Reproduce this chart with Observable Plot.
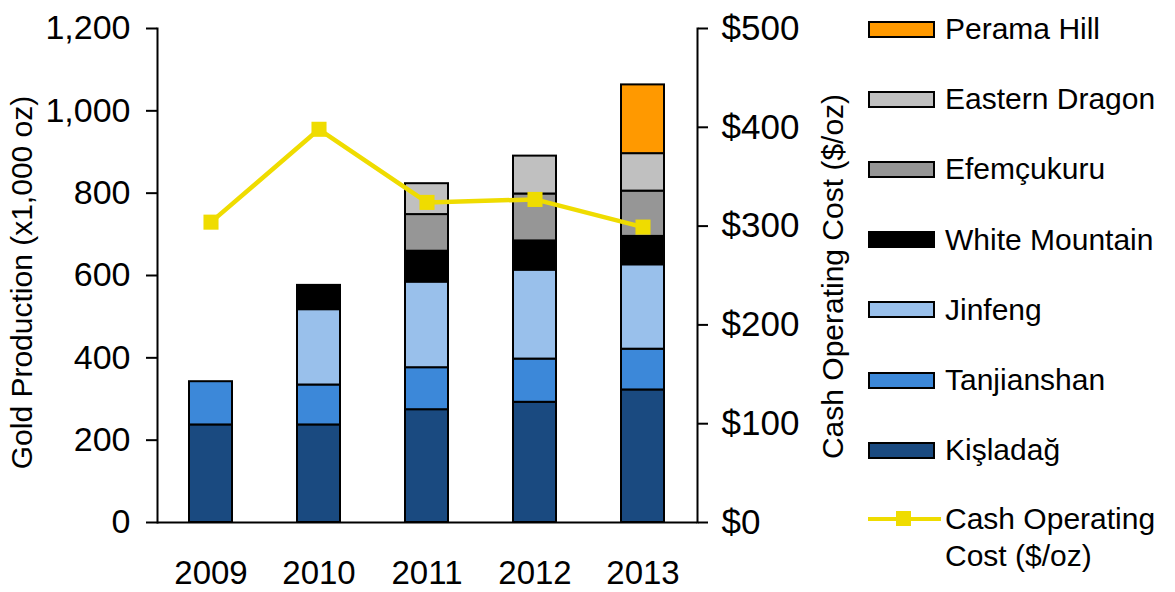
<!DOCTYPE html>
<html><head><meta charset="utf-8">
<script src="https://cdn.jsdelivr.net/npm/d3@7"></script>
<script src="https://cdn.jsdelivr.net/npm/@observablehq/plot@0.6"></script>
<style>
body{margin:0;background:#fff;}
#wrap{position:relative;width:1175px;height:592px;font-family:"Liberation Sans",Arial,sans-serif;color:#000;}
.row{position:absolute;left:868px;display:flex;align-items:center;height:40px;font-size:30px;white-space:nowrap;}
.sw{width:63px;height:13px;border:2px solid #000;margin-right:10px;box-sizing:content-box;}
.lrow{position:absolute;left:945px;font-size:30px;line-height:37px;white-space:nowrap;}
.lsw{position:absolute;left:868px;width:73px;height:4px;}
.lsq{position:absolute;left:896px;width:15px;height:15px;}
</style></head><body><div id="wrap"></div>
<script>
const years = ["2009", "2010", "2011", "2012", "2013"];
const mines = ["Kişladağ", "Tanjianshan", "Jinfeng", "White Mountain", "Efemçukuru", "Eastern Dragon", "Perama Hill"];
const kisladag      = [237, 237, 274, 292, 322];
const tanjianshan   = [105,  97, 102, 105,  99];
const jinfeng       = [  0, 183, 208, 216, 205];
const whiteMountain = [  0,  59,  75,  71,  69];
const efemcukuru    = [  0,   0,  89, 114, 110];
const easternDragon = [  0,   0,  75,  92,  91];
const peramaHill    = [  0,   0,   0,   0, 167];
const cashCost      = [304, 398, 324, 327, 299];
const mineColors = ["#1a4a80", "#3c88d9", "#99c0eb", "#000000", "#969696", "#c0c0c0", "#ff9900"];
const lineColor = "#efdc00";
const leftTicks = [0, 200, 400, 600, 800, 1000, 1200];
const rightTicks = [0, 100, 200, 300, 400, 500];
const leftTitle = "Gold Production (x1,000 oz)";
const rightTitle = "Cash Operating Cost ($/oz)";
const lineLabel = ["Cash Operating", "Cost ($/oz)"];

const series = [kisladag, tanjianshan, jinfeng, whiteMountain, efemcukuru, easternDragon, peramaHill];
const k = 1200 / 500;
const rows = years.flatMap((y, i) => series.map((s, j) => ({year: y, mine: mines[j], value: s[i]}))).filter(d => d.value > 0);
const costRows = years.map((y, i) => ({year: y, cost: cashCost[i]}));

const chart = Plot.plot({
  width: 1175, height: 592,
  marginLeft: 157, marginRight: 478, marginTop: 28, marginBottom: 70,
  style: {fontFamily: "Liberation Sans, Arial, sans-serif", color: "#000", background: "#fff", overflow: "visible"},
  x: {type: "band", domain: years, paddingInner: 0.6, paddingOuter: 0.3},
  y: {domain: [0, 1200]},
  color: {domain: mines, range: mineColors},
  marks: [
    Plot.barY(rows, {x: "year", y: "value", fill: "mine", stroke: "#000", strokeWidth: 2, order: mines}),
    Plot.line(costRows, {x: "year", y: d => d.cost * k, stroke: lineColor, strokeWidth: 4.5}),
    Plot.dot(costRows, {x: "year", y: d => d.cost * k, symbol: "square", r: 8.5, fill: lineColor}),
    Plot.ruleY([0], {strokeWidth: 2}),
    Plot.frame({anchor: "left", strokeWidth: 2}),
    Plot.frame({anchor: "right", strokeWidth: 2}),
    Plot.axisY(leftTicks, {anchor: "left", tickSize: 11, tickPadding: 16, tickFormat: d3.format(","), fontSize: 34, strokeWidth: 2, label: null}),
    Plot.axisY(rightTicks.map(v => v * k), {anchor: "right", tickSize: 10, tickPadding: 14, tickFormat: d => "$" + Math.round(d / k), fontSize: 35, strokeWidth: 2, label: null}),
    Plot.axisX({tickSize: 0, tickPadding: 38, fontSize: 33, label: null}),
    Plot.text([leftTitle], {text: d => d, frameAnchor: "left", rotate: -90, dx: -135, dy: 7, textAnchor: "middle", lineAnchor: "middle", fontSize: 30}),
    Plot.text([rightTitle], {text: d => d, frameAnchor: "right", rotate: -90, dx: 136, dy: 1, textAnchor: "middle", lineAnchor: "middle", fontSize: 30})
  ]
});
const wrap = document.getElementById("wrap");
wrap.appendChild(chart);

// legend (top of stack first)
const order = mines.map((m, i) => i).reverse();
order.forEach((mi, r) => {
  const row = document.createElement("div");
  row.className = "row";
  row.style.top = (29 + r * 70.2 - 20) + "px";
  const sw = document.createElement("div");
  sw.className = "sw";
  sw.style.background = mineColors[mi];
  row.appendChild(sw);
  row.appendChild(document.createTextNode(mines[mi]));
  wrap.appendChild(row);
});
const lsw = document.createElement("div");
lsw.className = "lsw"; lsw.style.top = "517px"; lsw.style.background = lineColor;
wrap.appendChild(lsw);
const lsq = document.createElement("div");
lsq.className = "lsq"; lsq.style.top = "511px"; lsq.style.background = lineColor;
wrap.appendChild(lsq);
const lt = document.createElement("div");
lt.className = "lrow"; lt.style.top = "500px";
lt.innerHTML = lineLabel.join("<br>");
wrap.appendChild(lt);
</script>
</body></html>
